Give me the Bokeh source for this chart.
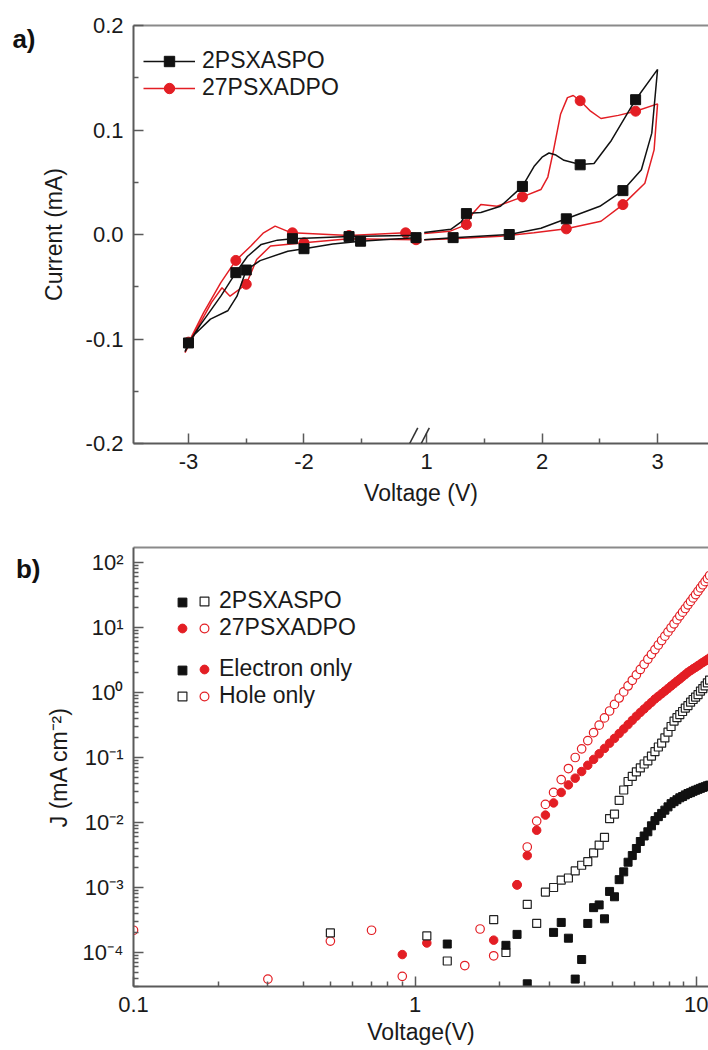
import math
from bokeh.plotting import figure
from bokeh.models import (Range1d, FixedTicker, CustomJSTickFormatter, LinearAxis, LogAxis,
                          Legend, LegendItem, Arrow)
from bokeh.core.properties import value
from bokeh.layouts import column
from bokeh.embed import file_html
from bokeh.resources import INLINE

nan = float("nan")
FONT = "Liberation Sans"
RED = "#e31e24"
BLACK = "#111111"
AXIS = "#5a5a5a"

# ---------------- panel a) cyclic voltammetry (V, mA) ----------------
# 2PSXASPO, cathodic loop
aspo_cat_v = [-1.03, -1.12, -1.61, -2.10, -2.23, -2.37, -2.49, -2.59, -2.72, -2.90, -3.00, -3.03,
              -2.95, -2.81, -2.66, -2.58, -2.50, -2.38, -2.14, -2.00, -1.75, -1.51, -1.25, -1.03]
aspo_cat_i = [-0.001, -0.001, -0.002, -0.004, -0.0054, -0.0095, -0.021, -0.0365, -0.059, -0.087, -0.104, -0.112,
              -0.096, -0.081, -0.073, -0.059, -0.034, -0.025, -0.016, -0.0136, -0.009, -0.0064, -0.0045, -0.003]
# 2PSXASPO, anodic loop
aspo_an_v = [0.98, 1.21, 1.30, 1.345, 1.47, 1.64, 1.83, 1.93, 2.00, 2.06, 2.12, 2.19, 2.33, 2.45, 2.60, 2.81, 3.00,
             2.95, 2.86, 2.70, 2.50, 2.21, 1.99, 1.716, 1.23, 0.98]
aspo_an_i = [0.002, 0.005, 0.012, 0.020, 0.021, 0.027, 0.046, 0.065, 0.074, 0.078, 0.076, 0.071, 0.067, 0.068,
             0.090, 0.129, 0.158, 0.097, 0.062, 0.042, 0.027, 0.015, 0.006, 0.0, -0.003, -0.005]
aspo_mk_v = [-3.00, -2.59, -2.50, -2.10, -2.00, -1.61, -1.51, -1.03, 1.23, 1.345, 1.716, 1.83, 2.21, 2.33, 2.70, 2.81]
aspo_mk_i = [-0.1038, -0.0365, -0.034, -0.004, -0.0136, -0.002, -0.0064, -0.003, -0.003, 0.020, 0.0, 0.046,
             0.015, 0.0667, 0.042, 0.129]

# 27PSXADPO, cathodic loop
adpo_cat_v = [-1.03, -1.12, -1.61, -2.10, -2.14, -2.25, -2.35, -2.46, -2.59, -2.72, -2.87, -2.97, -3.03,
              -2.90, -2.80, -2.71, -2.64, -2.50, -2.41, -2.29, -2.00, -1.61, -1.03]
adpo_cat_i = [0.001, 0.0016, -0.001, 0.0016, 0.003, 0.008, 0.0016, -0.011, -0.0248, -0.046, -0.075, -0.097, -0.113,
              -0.085, -0.065, -0.051, -0.059, -0.0476, -0.024, -0.011, -0.008, -0.004, -0.005]
# 27PSXADPO, anodic loop
adpo_an_v = [0.98, 1.20, 1.345, 1.40, 1.47, 1.61, 1.83, 1.99, 2.05, 2.10, 2.16, 2.22, 2.27, 2.33, 2.42, 2.51,
             2.66, 2.81, 3.00, 2.97, 2.89, 2.70, 2.51, 2.21, 1.93, 1.64, 1.23, 0.98]
adpo_an_i = [0.001, 0.003, 0.0095, 0.020, 0.0286, 0.027, 0.036, 0.043, 0.055, 0.081, 0.115, 0.131, 0.133, 0.128,
             0.118, 0.111, 0.114, 0.118, 0.125, 0.081, 0.049, 0.0286, 0.0127, 0.0054, 0.0016, -0.0016, -0.004,
             -0.005]
adpo_mk_v = [-3.00, -2.59, -2.50, -2.10, -2.00, -1.61, -1.12, -1.03, 1.345, 1.83, 2.21, 2.33, 2.70, 2.81]
adpo_mk_i = [-0.103, -0.0248, -0.0476, 0.0016, -0.008, -0.001, 0.0016, -0.005, 0.0095, 0.036, 0.0054, 0.128,
             0.0286, 0.118]

cv_xticks = [-3, -2, 1, 2, 3]
cv_xminor = [-2.5, -1.5, 1.5, 2.5]
cv_yticks = [-0.2, -0.1, 0.0, 0.1, 0.2]
cv_yminor = [-0.15, -0.05, 0.05, 0.15]

# ---------------- panel b) J-V of single-carrier devices ----------------
volt = [0.1, 0.3, 0.5, 0.7, 0.9, 1.1, 1.3, 1.5, 1.7, 1.9, 2.1, 2.3, 2.5, 2.7, 2.9, 3.1, 3.3, 3.5, 3.7, 3.9,
        4.1, 4.3, 4.5, 4.7, 4.9, 5.1, 5.3, 5.5, 5.7, 5.9, 6.1, 6.3, 6.5, 6.7, 6.9, 7.1, 7.3, 7.5, 7.7, 7.9,
        8.1, 8.3, 8.5, 8.7, 8.9, 9.1, 9.3, 9.5, 9.7, 9.9, 10.1, 10.3, 10.5, 10.7, 10.9, 11.1]
# 2PSXASPO electron only (filled squares)
aspo_electron = [nan, nan, nan, nan, nan, nan, 1.35e-4, nan, nan, nan, 1.29e-4, 1.9e-4, 3.3e-5, nan, nan,
                 2.04e-4, 2.9e-4, 1.66e-4, 3.9e-5, 7.8e-5, 2.8e-4, 4.9e-4, 5.4e-4, 3.3e-4, 8.7e-4, 7.2e-4,
                 1.32e-3, 1.74e-3, 2.45e-3, 3.1e-3, 3.98e-3, 5.1e-3, 6.2e-3, 7.2e-3, 8.9e-3, 1.07e-2, 1.23e-2,
                 1.38e-2, 1.55e-2, 1.74e-2, 1.95e-2, 2.09e-2, 2.24e-2, 2.40e-2, 2.51e-2, 2.66e-2, 2.79e-2,
                 2.88e-2, 3.02e-2, 3.13e-2, 3.24e-2, 3.35e-2, 3.47e-2, 3.55e-2, 3.67e-2, 3.76e-2]
# 2PSXASPO hole only (open squares)
aspo_hole = [nan, nan, 2.0e-4, nan, nan, 1.8e-4, 7.4e-5, nan, nan, 3.2e-4, 1.0e-4, nan, 5.5e-4, 2.8e-4, 8.5e-4,
             1.0e-3, 1.3e-3, 1.4e-3, 1.8e-3, 2.2e-3, 2.5e-3, 3.4e-3, 4.5e-3, 5.9e-3, 1.15e-2, 1.35e-2, 2.19e-2,
             3.16e-2, 4.27e-2, 5.13e-2, 6.03e-2, 6.92e-2, 7.94e-2, 0.089, 0.105, 0.123, 0.145, 0.166, 0.20,
             0.245, 0.30, 0.363, 0.41, 0.457, 0.51, 0.575, 0.63, 0.71, 0.78, 0.85, 0.93, 1.05, 1.15, 1.26,
             1.41, 1.55]
# 27PSXADPO electron only (filled circles)
adpo_electron = [nan, nan, nan, nan, 9.3e-5, 1.4e-4, nan, nan, nan, 1.55e-4, nan, 1.1e-3, 3.1e-3, 7.6e-3,
                 1.3e-2, 2.0e-2, 2.9e-2, 0.0379, 0.0481, 0.0608, 0.0759, 0.0935, 0.114, 0.138, 0.166, 0.197,
                 0.234, 0.275, 0.321, 0.373, 0.432, 0.494, 0.558, 0.630, 0.706, 0.793, 0.873, 0.959, 1.05,
                 1.15, 1.26, 1.37, 1.49, 1.61, 1.75, 1.89, 2.04, 2.17, 2.31, 2.44, 2.59, 2.74, 2.90, 3.05,
                 3.22, 3.40]
# 27PSXADPO hole only (open circles)
adpo_hole = [2.2e-4, 3.9e-5, 1.5e-4, 2.2e-4, 4.3e-5, nan, nan, 6.3e-5, 2.3e-4, 8.9e-5, nan, 1.1e-3, 4.2e-3,
             1.05e-2, 1.9e-2, 2.9e-2, 0.0457, 0.0676, 0.100, 0.136, 0.182, 0.241, 0.314, 0.406, 0.519, 0.656,
             0.822, 1.02, 1.26, 1.54, 1.87, 2.26, 2.72, 3.25, 3.86, 4.57, 5.38, 6.31, 7.36, 8.55, 9.91, 11.4,
             13.2, 15.1, 17.2, 19.6, 22.3, 25.2, 28.5, 32.1, 36.1, 40.6, 45.4, 50.7, 56.5, 63.1]

jv_xticks = [0.1, 1, 10]
jv_yticks = [1e-4, 1e-3, 1e-2, 1e-1, 1e0, 1e1, 1e2]

# ---------------- helpers ----------------
SHIFT = 1.939      # width of the removed interval on the broken voltage axis
BREAK = -1.0       # plot coordinate of the axis break


def brk(vals):
    return [v if v < 0 else v - SHIFT for v in vals]


def style_axis(ax):
    ax.axis_line_color = AXIS
    ax.axis_line_width = 2
    ax.major_tick_in = 10
    ax.major_tick_out = 0
    ax.minor_tick_in = 5
    ax.minor_tick_out = 0
    ax.major_tick_line_color = AXIS
    ax.major_tick_line_width = 1.5
    ax.minor_tick_line_color = AXIS
    ax.minor_tick_line_width = 1.5
    ax.major_label_text_font = FONT
    ax.major_label_text_font_size = "22px"
    ax.major_label_text_color = "#1a1a1a"
    ax.axis_label_text_font = FONT
    ax.axis_label_text_font_size = "23px"
    ax.axis_label_text_font_style = "normal"
    ax.axis_label_text_color = "#1a1a1a"


def top_line(p):
    ax = LinearAxis(ticker=FixedTicker(ticks=[]), axis_line_color="#8a8a8a", axis_line_width=2,
                    major_tick_in=0, major_tick_out=0, minor_tick_in=0, minor_tick_out=0)
    p.add_layout(ax, "above")


def panel_tag(p, text, y, cls=LinearAxis):
    # bold panel letter: the single tick label of an outer, line-less left axis
    ax = cls(ticker=FixedTicker(ticks=[y], minor_ticks=[]),
             formatter=CustomJSTickFormatter(args=dict(t=text), code="return t;"),
             axis_line_color=None, major_tick_line_color=None, minor_tick_line_color=None,
             major_tick_in=0, major_tick_out=0, minor_tick_in=0, minor_tick_out=0,
             major_label_standoff=2, major_label_orientation="horizontal",
             major_label_text_font=FONT, major_label_text_font_size="26px",
             major_label_text_font_style="bold", major_label_text_color="#111111")
    p.add_layout(ax, "left")


# ---------------- figure a) ----------------
p1 = figure(width=708, height=520, x_range=Range1d(-3.476, 1.502), y_range=Range1d(-0.2, 0.2),
            output_backend="svg", toolbar_location=None, min_border_left=133, min_border_right=0,
            min_border_top=25, min_border_bottom=77, outline_line_color=None)
p1.grid.visible = False
p1.xaxis.axis_label = "Voltage (V)"
p1.yaxis.axis_label = "Current (mA)"
for ax in p1.xaxis + p1.yaxis:
    style_axis(ax)
p1.xaxis.major_label_standoff = 10
p1.xaxis.axis_label_standoff = 8
p1.yaxis.major_label_standoff = 10
p1.yaxis.axis_label_standoff = 16
p1.xaxis.ticker = FixedTicker(ticks=brk(cv_xticks), minor_ticks=brk(cv_xminor))
p1.xaxis.formatter = CustomJSTickFormatter(args=dict(shift=SHIFT, brk=BREAK + 0.03),
                                           code="const v = tick < brk ? tick : tick + shift; return Math.round(v).toString();")
p1.yaxis.ticker = FixedTicker(ticks=cv_yticks, minor_ticks=cv_yminor)
p1.yaxis.formatter = CustomJSTickFormatter(code="return tick.toFixed(1);")
top_line(p1)

r_adpo_l = p1.line(brk(adpo_cat_v), adpo_cat_i, line_color=RED, line_width=1.5)
p1.line(brk(adpo_an_v), adpo_an_i, line_color=RED, line_width=1.5)
r_adpo_m = p1.scatter(brk(adpo_mk_v), adpo_mk_i, marker="circle", size=10, fill_color=RED, line_color=RED)
r_aspo_l = p1.line(brk(aspo_cat_v), aspo_cat_i, line_color=BLACK, line_width=1.5)
p1.line(brk(aspo_an_v), aspo_an_i, line_color=BLACK, line_width=1.5)
r_aspo_m = p1.scatter(brk(aspo_mk_v), aspo_mk_i, marker="square", size=10, fill_color=BLACK, line_color=BLACK)

# axis break marks "//" (kept inside the frame, standing on the axis line)
for c in (BREAK - 0.05, BREAK + 0.05):
    p1.add_layout(Arrow(x_start=c - 0.035, y_start=-0.2, x_end=c + 0.035, y_end=-0.185,
                        start=None, end=None, line_color="#333333", line_width=1.6))

leg1 = Legend(items=[LegendItem(label=value("2PSXASPO"), renderers=[r_aspo_l, r_aspo_m]),
                     LegendItem(label=value("27PSXADPO"), renderers=[r_adpo_l, r_adpo_m])],
              location=(10, 342), glyph_width=52, glyph_height=26, label_height=26, label_standoff=7,
              spacing=0, padding=0, margin=0, border_line_color=None, background_fill_alpha=0,
              label_text_font=FONT, label_text_font_size="23px", label_text_color="#1a1a1a")
p1.add_layout(leg1)
panel_tag(p1, "a)", 0.2 - 13 / 1045)

# ---------------- figure b) ----------------
p2 = figure(width=708, height=530, x_axis_type="log", y_axis_type="log",
            x_range=Range1d(0.1, 11.0), y_range=Range1d(3.0e-5, 170.0),
            output_backend="svg", toolbar_location=None, min_border_left=127, min_border_right=0,
            min_border_top=27, min_border_bottom=64, outline_line_color=None)
p2.grid.visible = False
p2.xaxis.axis_label = "Voltage(V)"
p2.yaxis.axis_label = "J (mA cm\u207b\u00b2)"
for ax in p2.xaxis + p2.yaxis:
    style_axis(ax)
p2.xaxis.major_label_standoff = 10
p2.xaxis.axis_label_standoff = 4
p2.yaxis.major_label_standoff = 10
p2.yaxis.axis_label_standoff = 8
p2.xaxis.ticker = FixedTicker(ticks=jv_xticks,
                              minor_ticks=[m * 10.0 ** k for k in (-1, 0, 1) for m in range(2, 10)])
p2.xaxis.formatter = CustomJSTickFormatter(code="return tick < 1 ? tick.toFixed(1) : tick.toFixed(0);")
p2.yaxis.ticker = FixedTicker(ticks=jv_yticks,
                              minor_ticks=[m * 10.0 ** k for k in range(-5, 3) for m in range(2, 10)])
p2.yaxis.formatter = CustomJSTickFormatter(code="""
const e = Math.round(Math.log10(tick));
const m = {"-": "\\u207b", "0": "\\u2070", "1": "\\u00b9", "2": "\\u00b2", "3": "\\u00b3",
           "4": "\\u2074", "5": "\\u2075", "6": "\\u2076", "7": "\\u2077", "8": "\\u2078", "9": "\\u2079"};
return "10" + String(e).split("").map(c => m[c]).join("");
""")
top_line(p2)

r_hr = p2.scatter(volt, adpo_hole, marker="circle", size=8.5, fill_color="white", line_color=RED, line_width=1.2)
r_er = p2.scatter(volt, adpo_electron, marker="circle", size=8.5, fill_color=RED, line_color=RED)
r_hb = p2.scatter(volt, aspo_hole, marker="square", size=8, fill_color="white", line_color="#222222", line_width=1.2)
r_eb = p2.scatter(volt, aspo_electron, marker="square", size=8, fill_color=BLACK, line_color=BLACK)


def jv_legend(items, x, y):
    return Legend(items=[LegendItem(label=value(t), renderers=[r]) for t, r in items],
                  location=(x, y), glyph_width=22, glyph_height=26, label_height=26, label_standoff=4,
                  spacing=0, padding=0, margin=0, border_line_color=None, background_fill_alpha=0,
                  label_text_font=FONT, label_text_font_size="23px", label_text_color="#1a1a1a")


p2.add_layout(jv_legend([(" ", r_eb), (" ", r_er)], 38, 345))
p2.add_layout(jv_legend([("2PSXASPO", r_hb), ("27PSXADPO", r_hr)], 60, 345))
p2.add_layout(jv_legend([(" ", r_eb), (" ", r_hb)], 38, 277))
p2.add_layout(jv_legend([("Electron only", r_er), ("Hole only", r_hr)], 60, 277))
panel_tag(p2, "b)", 10 ** (math.log10(170.0) - 21 / 65), LogAxis)

layout = column(p1, p2, spacing=0)
open("out.html", "w").write(file_html(layout, INLINE))
